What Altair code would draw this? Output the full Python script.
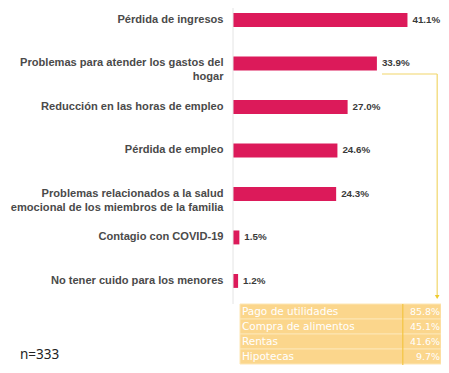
import altair as alt
import pandas as pd

categories = [
    "Pérdida de ingresos",
    "Problemas para atender los gastos del hogar",
    "Reducción en las horas de empleo",
    "Pérdida de empleo",
    "Problemas relacionados a la salud emocional de los miembros de la familia",
    "Contagio con COVID-19",
    "No tener cuido para los menores",
]
label_lines = [
    ["Pérdida de ingresos"],
    ["Problemas para atender los gastos del", "hogar"],
    ["Reducción en las horas de empleo"],
    ["Pérdida de empleo"],
    ["Problemas relacionados a la salud", "emocional de los miembros de la familia"],
    ["Contagio con COVID-19"],
    ["No tener cuido para los menores"],
]
values = [41.1, 33.9, 27.0, 24.6, 24.3, 1.5, 1.2]

table_items = ["Pago de utilidades", "Compra de alimentos", "Rentas", "Hipotecas"]
table_values = [85.8, 45.1, 41.6, 9.7]
sample_note = "n=333"

df = pd.DataFrame({"cat": categories, "val": values})
df["lbl"] = [f"{v:.1f}%" for v in values]
tdf = pd.DataFrame({"item": table_items, "val": table_values})
tdf["lbl"] = [f"{v:.1f}%" for v in table_values]

# label expression for multi-line axis labels
expr = "datum.label"
for cat, lines in zip(categories, label_lines):
    if len(lines) > 1:
        arr = "[" + ",".join("'" + l + "'" for l in lines) + "]"
        expr = f"datum.label == '{cat}' ? {arr} : ({expr})"

FONT = "Liberation Sans"
BAR = "#DC1A5A"
YEL = "#F1D66A"

xscale = alt.Scale(domain=[0, 49], nice=False, zero=False)
yscale = alt.Scale(paddingInner=0.68, paddingOuter=0.944, align=0.061, round=False)

base = alt.Chart(df)
bars = base.mark_bar(color=BAR).encode(
    x=alt.X("val:Q", scale=xscale, axis=None),
    y=alt.Y(
        "cat:N",
        sort=categories,
        scale=yscale,
        axis=alt.Axis(
            title=None,
            domain=False,
            ticks=False,
            grid=False,
            labelExpr=expr,
            labelFont=FONT,
            labelFontSize=11.1,
            labelFontWeight="bold",
            labelColor="#4a4a4a",
            labelPadding=10,
            labelLimit=400,
            labelLineHeight=14,
        ),
    ),
)
vals = base.mark_text(align="left", dx=5, font=FONT, fontSize=9.8, fontWeight="bold", color="#3a3a3a").encode(
    x=alt.X("val:Q", scale=xscale),
    y=alt.Y("cat:N", sort=categories),
    text="lbl:N",
)

one = pd.DataFrame({"k": [0]})
axis_line = alt.Chart(one).mark_rule(color="#e4e4e4", strokeWidth=1).encode(
    x=alt.datum(0, scale=xscale), y=alt.value(0), y2=alt.value(296)
)
conn_h = alt.Chart(one).mark_rule(color=YEL, strokeWidth=1.2).encode(
    x=alt.datum(35.1, scale=xscale), x2=alt.datum(48.1), y=alt.value(66)
)
conn_v = alt.Chart(one).mark_rule(color=YEL, strokeWidth=1.2).encode(
    x=alt.datum(48.1, scale=xscale), y=alt.value(66), y2=alt.value(287)
)
arrow = alt.Chart(one).mark_point(shape="triangle-down", filled=True, color="#EFCB2E", size=22, opacity=1).encode(
    x=alt.datum(48.1, scale=xscale), y=alt.value(289)
)
note = alt.Chart(one).mark_text(align="left", font="Noto Sans", fontSize=13.5, color="#222222").encode(
    x=alt.value(-213), y=alt.value(347), text=alt.value(sample_note)
)

tscale = alt.Scale(range=[296, 356], paddingInner=0, paddingOuter=0)
trows = alt.Chart(tdf).mark_rect(color="#FBD68C", stroke="#FDE6B4", strokeWidth=1).encode(
    x=alt.datum(1.65, scale=xscale), x2=alt.datum(49),
    y=alt.Y("item:N", sort=table_items, scale=tscale, axis=None),
)
tvsep = alt.Chart(one).mark_rule(color="#F3C543", strokeWidth=1.2).encode(
    x=alt.datum(40.0, scale=xscale), y=alt.value(296), y2=alt.value(357),
)
ttext = alt.Chart(tdf).mark_text(align="left", font="DejaVu Sans", fontSize=10.5, color="white").encode(
    x=alt.datum(2.1, scale=xscale),
    y=alt.Y("item:N", sort=table_items, scale=tscale, axis=None),
    text="item:N",
)
tvals = alt.Chart(tdf).mark_text(align="right", font="DejaVu Sans", fontSize=9.5, color="white").encode(
    x=alt.datum(48.8, scale=xscale),
    y=alt.Y("item:N", sort=table_items, scale=tscale, axis=None),
    text="lbl:N",
)

main = alt.layer(bars, axis_line, vals, conn_h, conn_v, arrow, note)
table = alt.layer(trows, tvsep, ttext, tvals)

chart = (
    alt.layer(main, table)
    .resolve_scale(y="independent")
    .properties(
        width=208,
        height=357,
        padding={"left": 225, "top": 0, "right": 0, "bottom": 0},
        autosize=alt.AutoSizeParams(type="none"),
    )
    .configure_view(stroke=None)
)

chart.save("out.html", embed_options={"renderer": "svg", "actions": False})
